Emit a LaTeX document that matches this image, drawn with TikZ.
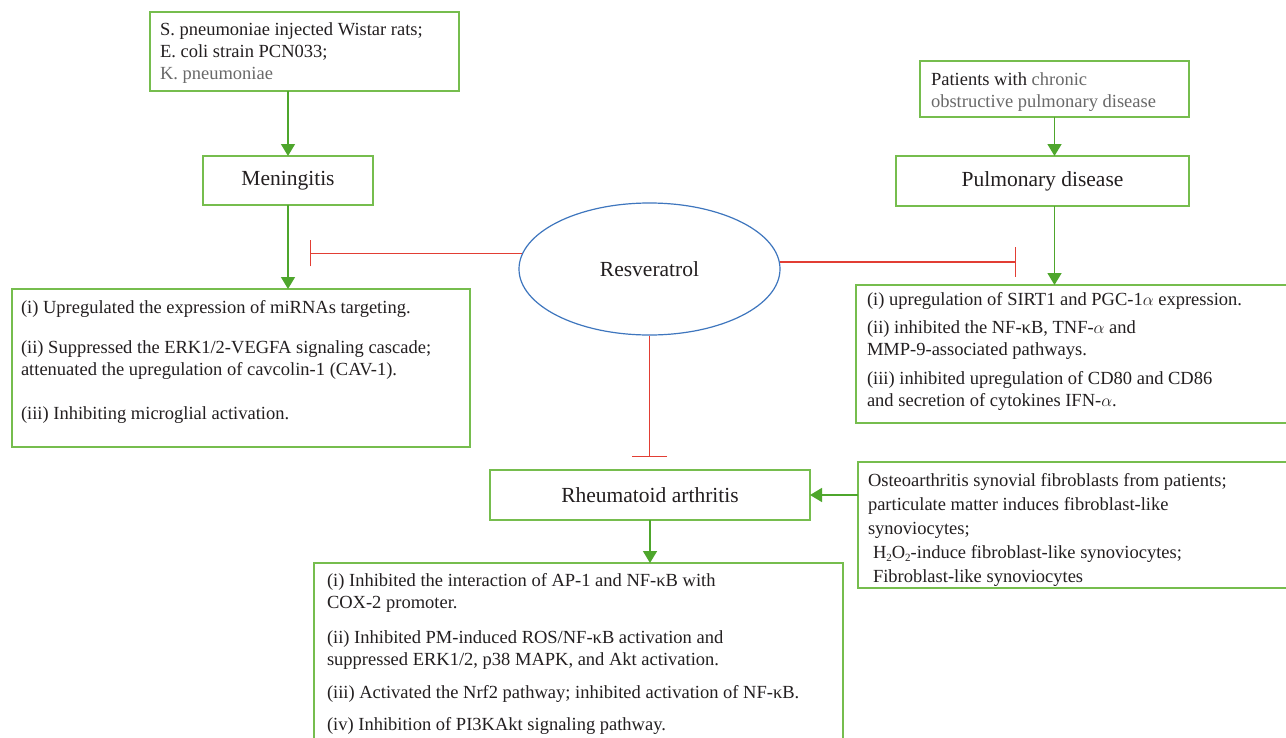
\documentclass[tikz,border=0pt]{standalone}
\usepackage{fontspec}
\setmainfont{Liberation Serif}
\usetikzlibrary{shapes.geometric,arrows.meta}
\definecolor{boxg}{RGB}{118,189,78}
\definecolor{arrg}{RGB}{78,166,44}
\definecolor{inhr}{RGB}{226,62,52}
\definecolor{ellb}{RGB}{62,118,190}
\definecolor{txt}{RGB}{35,31,32}
\definecolor{txtgr}{RGB}{105,105,105}
\newcommand{\boxtext}[4]{\begin{minipage}[t][#1][t]{#2}\raggedright\rule{0pt}{#3}#4\end{minipage}}
\newcommand{\sub}[1]{\raisebox{-3pt}{\fontsize{11}{11}\selectfont #1}}
\tikzset{
	bx/.style={draw=boxg, line width=1.3pt, inner ysep=0pt, outer sep=0pt, anchor=north west, text=txt, font=\fontsize{18.5}{22}\selectfont},
	ttl/.style={draw=boxg, line width=1.3pt, inner sep=0pt, outer sep=0pt, text=txt, font=\fontsize{21.5}{26}\selectfont},
	arr/.style={draw=arrg, line width=1.5pt, -{Triangle[width=14pt,length=12pt]}},
	inh/.style={draw=inhr, line width=1.4pt, -{Bar[width=#1,line width=1.4pt]}},
	inh/.default=28pt,
}

\begin{document}
\begin{tikzpicture}[x=1pt,y=-1pt]
	\fill[white] (0,0) rectangle (1286,737);
	\useasboundingbox (0,0) rectangle (1286,737);

	\node[bx, inner xsep=10pt] (src1) at (150,12) {\boxtext{79pt}{289pt}{23pt}{S. pneumoniae injected Wistar rats;\\
		E. coli strain PCN033;\\
		\textcolor{txtgr}{K. pneumoniae}}};
	\node[ttl, minimum width=170pt, minimum height=49pt] (men) at (288,180.5) {Meningitis};
	\node[bx, inner xsep=9pt] (menfx) at (12,289) {\boxtext{158pt}{440pt}{24pt}{(i) Upregulated the expression of miRNAs targeting.\\[18pt]
		(ii) Suppressed the ERK1/2-VEGFA signaling cascade;\\
		attenuated the upregulation of cavcolin-1 (CAV-1).\\[22pt]
		(iii) Inhibiting microglial activation.}};

	\node[bx, inner xsep=11pt] (pat) at (920,61) {\boxtext{56pt}{247pt}{24pt}{Patients with \textcolor{txtgr}{chronic}\\
		\textcolor{txtgr}{obstructive pulmonary disease}}};
	\node[ttl, minimum width=293pt, minimum height=50pt] (pul) at (1042.5,181) {Pulmonary disease};
	\node[bx, inner xsep=11pt] (pulfx) at (856,285) {\boxtext{138pt}{412pt}{20pt}{(i) upregulation of SIRT1 and PGC-1$\alpha$ expression.\\[6pt]
		(ii) inhibited the NF-κB, TNF-$\alpha$ and\\
		MMP-9-associated pathways.\\[7pt]
		(iii) inhibited upregulation of CD80 and CD86\\
		and secretion of cytokines IFN-$\alpha$.}};

	\node[ellipse, draw=ellb, line width=1.2pt, minimum width=261pt, minimum height=132pt, inner sep=0pt, text=txt, font=\fontsize{21.5}{26}\selectfont] (res) at (649.5,269) {Resveratrol};

	\node[ttl, minimum width=320pt, minimum height=50pt] (ra) at (650,495) {Rheumatoid arthritis};
	\node[bx, inner xsep=10pt, font=\fontsize{18.5}{24}\selectfont] (ost) at (858,462) {\boxtext{126pt}{412pt}{24pt}{Osteoarthritis synovial fibroblasts from patients;\\
		particulate matter induces fibroblast-like\\
		synoviocytes;\\
		\hspace*{5pt}H\sub{2}O\sub{2}-induce fibroblast-like synoviocytes;\\
		\hspace*{5pt}Fibroblast-like synoviocytes}};
	\node[bx, inner xsep=13pt] (rafx) at (314,563) {\boxtext{200pt}{503pt}{23pt}{(i) Inhibited the interaction of AP-1 and NF-κB with\\
		COX-2 promoter.\\[13pt]
		(ii) Inhibited PM-induced ROS/NF-κB activation and\\
		suppressed ERK1/2, p38 MAPK, and Akt activation.\\[11pt]
		(iii) Activated the Nrf2 pathway; inhibited activation of NF-κB.\\[10pt]
		(iv) Inhibition of PI3KAkt signaling pathway.}};

	\coordinate (menbar) at (310,254);
	\coordinate (pulbar) at (1016,261);
	\coordinate (rabar) at (649.5,457);

	\draw[arr] (src1.south -| men.north) -- (men.north);
	\draw[arr] (men.south) -- (men.south |- menfx.north);
	\draw[arr] (pat.south) -- (pat.south |- pul.north);
	\draw[arr] (pul.south -| pat.south) -- (pat.south |- pulfx.north);
	\draw[arr] (ra.south) -- (ra.south |- rafx.north);
	\draw[arr] (ra.east -| ost.west) -- (ra.east);

	\draw[inh=26pt] (res.173.4) -- (res.173.4 -| menbar);
	\draw[inh=30pt] (res.3.5) -- (res.3.5 -| pulbar);
	\draw[inh=35pt] (res.south) -- (rabar);
\end{tikzpicture}
\end{document}
